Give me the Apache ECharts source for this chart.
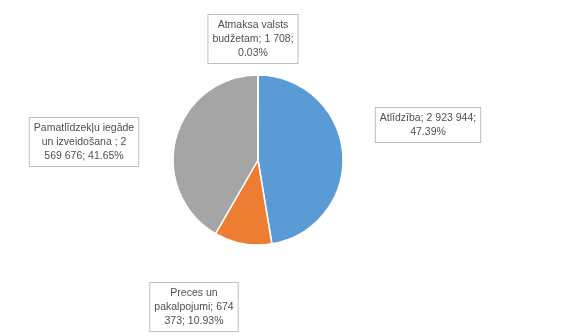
<!DOCTYPE html>
<html>
<head>
<meta charset="utf-8">
<script src="https://cdn.jsdelivr.net/npm/echarts@6/dist/echarts.min.js"></script>
<style>
html,body{margin:0;padding:0;background:#fff;}
#chart{width:576px;height:336px;}
</style>
</head>
<body>
<div id="chart"></div>
<script>
// Data
var categories = ['Atlīdzība', 'Preces un pakalpojumi', 'Pamatlīdzekļu iegāde un izveidošana ', 'Atmaksa valsts budžetam'];
var values = [2923944, 674373, 2569676, 1708];
var colors = ['#5B9BD5', '#ED7D31', '#A5A5A5', '#FFC000'];

// Label box layout (center x, top y) and words per wrapped line
var labelX = [428, 194, 84, 253];
var labelY = [108, 283, 118, 15];
var labelLines = [[4, 1], [2, 2, 2], [2, 4, 3], [2, 3, 1]];

function fmtNum(v) {
  return String(v).replace(/\B(?=(\d{3})+(?!\d))/g, ' ');
}
function wrap(text, counts) {
  var words = text.split(/ +/);
  var out = [], k = 0;
  counts.forEach(function (n) {
    out.push(words.slice(k, k + n).join(' '));
    k += n;
  });
  if (k < words.length) out[out.length - 1] += ' ' + words.slice(k).join(' ');
  return out.join('\n');
}

var chart = echarts.init(document.getElementById('chart'), null, {renderer: 'canvas'});
chart.setOption({
  animation: false,
  backgroundColor: '#ffffff',
  series: [{
    type: 'pie',
    center: [258, 160],
    radius: [0, 85],
    startAngle: 90,
    clockwise: true,
    percentPrecision: 2,
    avoidLabelOverlap: false,
    data: categories.map(function (c, i) {
      return {name: c, value: values[i], itemStyle: {color: colors[i]}};
    }),
    itemStyle: {borderColor: '#ffffff', borderWidth: 1.5},
    label: {
      show: true,
      position: 'outside',
      formatter: function (p) {
        var t = p.name + '; ' + fmtNum(p.value) + '; ' + p.percent.toFixed(2) + '%';
        return wrap(t, labelLines[p.dataIndex]);
      },
      fontFamily: 'Liberation Sans',
      fontSize: 10.5,
      lineHeight: 14,
      color: '#505050',
      align: 'center',
      backgroundColor: '#ffffff',
      borderColor: '#BFBFBF',
      borderWidth: 1,
      padding: [3, 4, 3, 4]
    },
    labelLine: {show: false},
    labelLayout: function (params) {
      var i = params.dataIndex;
      return {
        x: labelX[i],
        y: labelY[i],
        align: 'center',
        verticalAlign: 'top'
      };
    },
    emphasis: {disabled: true}
  }]
});
</script>
</body>
</html>
